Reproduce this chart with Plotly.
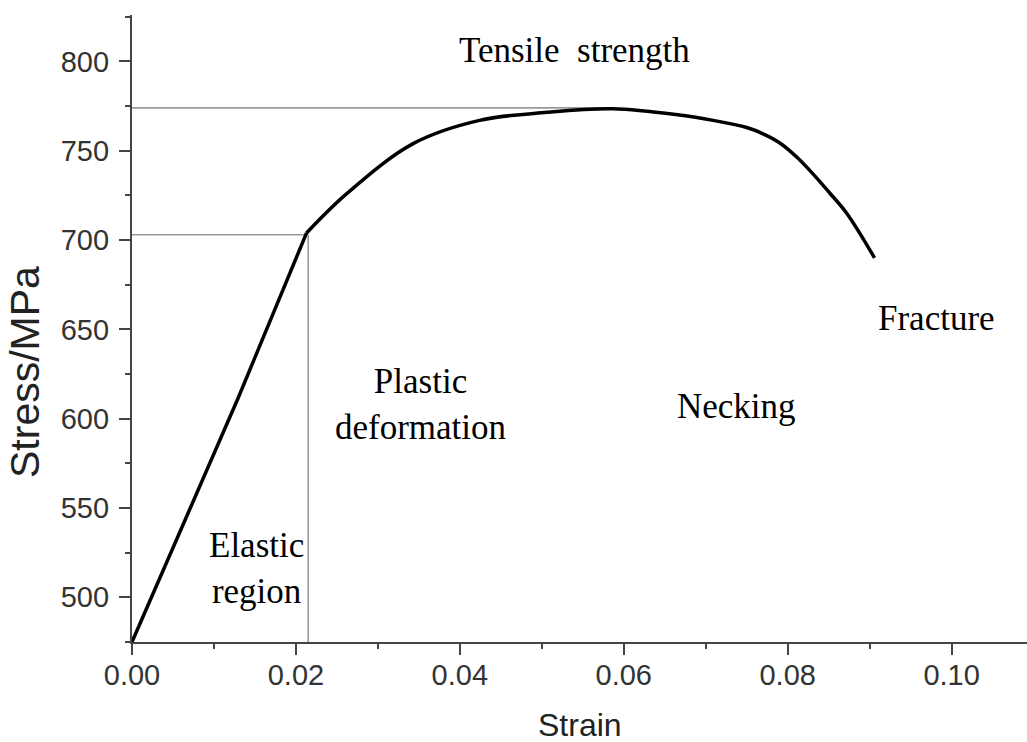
import plotly.graph_objects as go

# Data
strain = [0.0, 0.0129, 0.0213, 0.0262, 0.0343, 0.0424, 0.0506, 0.0587, 0.0668, 0.0709, 0.0750, 0.0770,
          0.0790, 0.0811, 0.0830, 0.0851, 0.0872, 0.0906]
stress = [475, 611, 704, 726, 754, 767, 771.5, 773.5, 770, 767, 763, 759.5,
          754.5, 746.5, 737.5, 726.5, 715, 690]

yield_strain = 0.0215
yield_stress = 703
tensile_stress = 774
tensile_strain = 0.058

x_ticks = [0.00, 0.02, 0.04, 0.06, 0.08, 0.10]
x_ticklabels = ["0.00", "0.02", "0.04", "0.06", "0.08", "0.10"]
y_ticks = [500, 550, 600, 650, 700, 750, 800]

labels = ["Tensile  strength", "Fracture", "Necking", "Plastic<br>deformation", "Elastic<br>region"]
label_x = [0.054, 0.0982, 0.0738, 0.0352, 0.0152]
label_y = [806, 656, 607, 608, 516]

x_title = "Strain"
y_title = "Stress/MPa"

x_range = [0, 0.1092]
y_range = [475, 826]

GRAY = "#9a9a9a"
SERIF = "Liberation Serif, Times New Roman, serif"
SANS = "Liberation Sans, Arial, sans-serif"

fig = go.Figure()

# reference lines
fig.add_trace(go.Scatter(x=[x_range[0], tensile_strain], y=[tensile_stress, tensile_stress],
                         mode="lines", line=dict(color=GRAY, width=1.6), hoverinfo="skip", showlegend=False))
fig.add_trace(go.Scatter(x=[x_range[0], yield_strain], y=[yield_stress, yield_stress],
                         mode="lines", line=dict(color=GRAY, width=1.6), hoverinfo="skip", showlegend=False))
fig.add_trace(go.Scatter(x=[yield_strain, yield_strain], y=[y_range[0], yield_stress],
                         mode="lines", line=dict(color=GRAY, width=1.6), hoverinfo="skip", showlegend=False))

# stress-strain curve: straight elastic part, smooth plastic part
k = 2  # index of yield point in the arrays
fig.add_trace(go.Scatter(x=strain[:k + 1], y=stress[:k + 1], mode="lines",
                         line=dict(color="black", width=3.5), showlegend=False))
fig.add_trace(go.Scatter(x=strain[k:], y=stress[k:], mode="lines",
                         line=dict(color="black", width=3.5, shape="spline", smoothing=1.0),
                         showlegend=False))

for t, xv, yv in zip(labels, label_x, label_y):
    fig.add_annotation(x=xv, y=yv, xref="x", yref="y", text=t, showarrow=False,
                       font=dict(family=SERIF, size=35, color="black"))

# axis titles
fig.add_annotation(x=0.5, y=-0.132, xref="paper", yref="paper", text=x_title, showarrow=False,
                   xanchor="center", yanchor="middle",
                   font=dict(family=SANS, size=32, color="#222"))
fig.add_annotation(x=-0.1196, y=0.4306, xref="paper", yref="paper", text=y_title, showarrow=False,
                   textangle=-90, xanchor="center", yanchor="middle",
                   font=dict(family=SANS, size=41, color="#222"))

axis_common = dict(
    showline=True, linecolor="#444", linewidth=2.2,
    ticks="outside", ticklen=11, tickwidth=2, tickcolor="#444",
    showgrid=False, zeroline=False, automargin=False,
    tickfont=dict(family=SANS, size=29, color="#333"),
)

fig.update_xaxes(range=x_range, tickvals=x_ticks, ticktext=x_ticklabels,
                 minor=dict(ticks="outside", ticklen=5, tickwidth=2, tickcolor="#444", dtick=0.01, tick0=0),
                 ticklabelstandoff=-5,
                 **axis_common)
fig.update_yaxes(range=y_range, tickvals=y_ticks,
                 minor=dict(ticks="outside", ticklen=5, tickwidth=2, tickcolor="#444", dtick=25, tick0=0),
                 ticklabelstandoff=4,
                 **axis_common)

fig.update_layout(width=1027, height=742,
                  margin=dict(l=132, r=0, t=15, b=100),
                  paper_bgcolor="white", plot_bgcolor="white")

# remove the default page margin so the figure fills the window exactly
fig.write_html("out.html", config={"displayModeBar": False},
               post_script="document.body.style.margin='0';document.body.style.overflow='hidden';")
